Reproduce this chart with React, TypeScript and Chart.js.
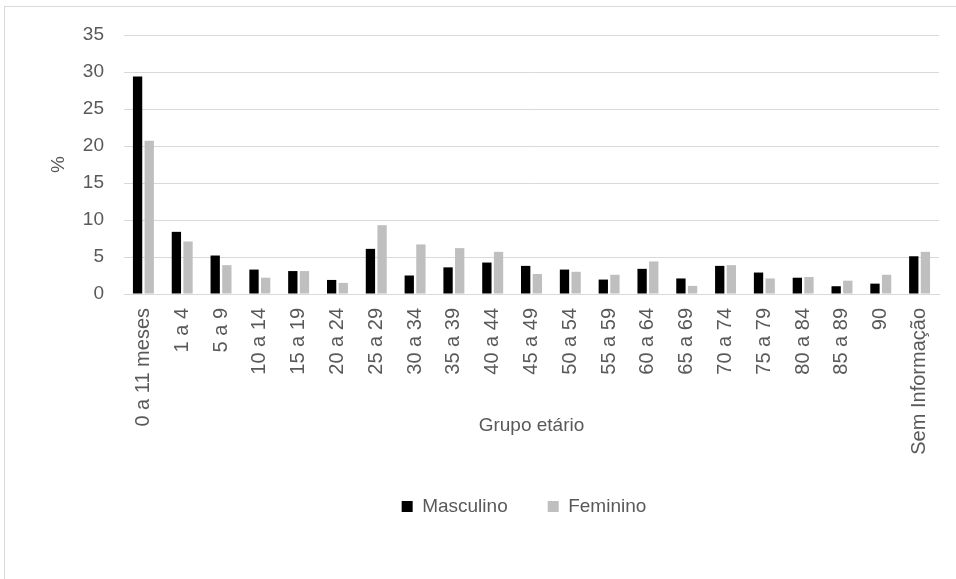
import React, { useEffect, useRef } from "react";
import { Chart, registerables } from "chart.js";

Chart.register(...registerables);

const categories = [
  "0 a 11 meses", "1 a 4", "5 a 9", "10 a 14", "15 a 19", "20 a 24", "25 a 29",
  "30 a 34", "35 a 39", "40 a 44", "45 a 49", "50 a 54", "55 a 59", "60 a 64",
  "65 a 69", "70 a 74", "75 a 79", "80 a 84", "85 a 89", "90", "Sem Informação",
];
const masculino = [29.4, 8.4, 5.2, 3.3, 3.1, 1.9, 6.1, 2.5, 3.6, 4.25, 3.8, 3.3, 1.95, 3.4, 2.1, 3.8, 2.9, 2.2, 1.05, 1.4, 5.1];
const feminino = [20.7, 7.1, 3.9, 2.2, 3.1, 1.5, 9.3, 6.7, 6.2, 5.7, 2.7, 3.0, 2.6, 4.4, 1.1, 3.9, 2.1, 2.3, 1.8, 2.6, 5.7];
const yTicks = [0, 5, 10, 15, 20, 25, 30, 35];

const FONT = "'Liberation Sans', Arial, sans-serif";
const TXT = "#595959";

const legendShift = {
  id: "legendShift",
  afterLayout(chart: any) {
    if (chart.legend) chart.legend.left += 62;
  },
};

export default function App() {
  const ref = useRef<HTMLCanvasElement | null>(null);
  useEffect(() => {
    if (!ref.current) return;
    const chart = new Chart(ref.current, {
      type: "bar",
      data: {
        labels: categories,
        datasets: [
          { label: "Masculino", data: masculino, backgroundColor: "#000000", barPercentage: 0.8, categoryPercentage: 0.6 },
          { label: "Feminino", data: feminino, backgroundColor: "#bfbfbf", barPercentage: 0.8, categoryPercentage: 0.6 },
        ],
      },
      plugins: [legendShift],
      options: {
        animation: false,
        responsive: false,
        maintainAspectRatio: false,
        layout: { padding: { top: 28, right: 26, bottom: 56, left: 42 } },
        plugins: {
          tooltip: { enabled: false },
          legend: {
            position: "bottom",
            labels: {
              color: TXT,
              font: { family: FONT, size: 19 },
              boxWidth: 11,
              boxHeight: 11,
              padding: 40,
            },
          },
        },
        scales: {
          x: {
            grid: { display: false, drawTicks: false },
            border: { color: "#d9d9d9", width: 1 },
            ticks: {
              color: TXT,
              font: { family: FONT, size: 20 },
              minRotation: 90,
              maxRotation: 90,
              padding: 14,
              autoSkip: false,
            },
            title: {
              display: true,
              text: "Grupo etário",
              color: TXT,
              font: { family: FONT, size: 19 },
              padding: { top: 0, bottom: 20 },
            },
            afterFit: (s: any) => { s.height = 163; },
          },
          y: {
            min: 0,
            max: 35,
            afterBuildTicks: (s: any) => { s.ticks = yTicks.map((v) => ({ value: v })); },
            grid: { color: "#d9d9d9", lineWidth: 1, drawTicks: false },
            border: { display: false },
            ticks: {
              color: TXT,
              font: { family: FONT, size: 19 },
              padding: 20,
            },
            title: {
              display: true,
              text: "%",
              color: TXT,
              font: { family: FONT, size: 19 },
              padding: 0,
            },
            afterFit: (s: any) => {
              s.width = 77;
              s.paddingTop = 0;
              s.paddingBottom = 0;
            },
          },
        },
      },
    });
    return () => chart.destroy();
  }, []);
  return (
    <div
      style={{
        position: "fixed",
        left: 4,
        top: 6,
        width: 960,
        height: 575,
        border: "1px solid #d9d9d9",
        background: "#fff",
      }}
    >
      <canvas ref={ref} width={960} height={575} style={{ display: "block" }} />
    </div>
  );
}
